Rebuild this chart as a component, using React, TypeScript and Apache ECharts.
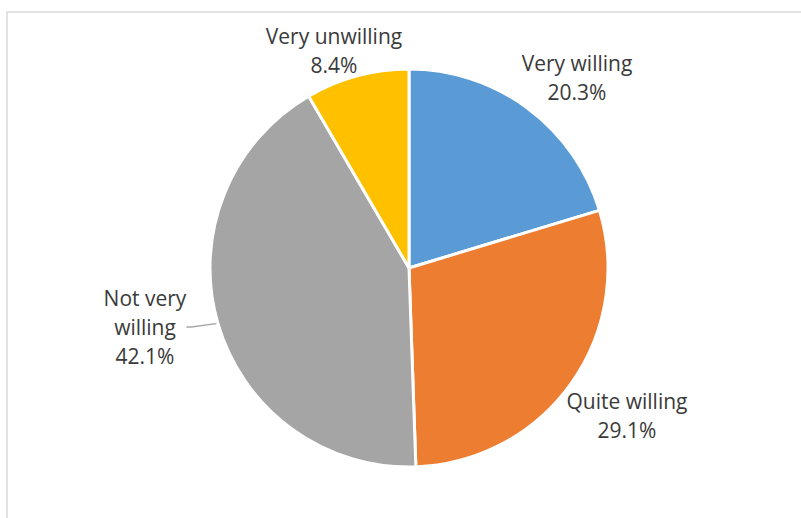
import React, { useEffect, useRef } from "react";
import * as echarts from "echarts";

const categories = ["Very willing", "Quite willing", "Not very willing", "Very unwilling"];
const labelTexts = ["Very willing", "Quite willing", "Not very\nwilling", "Very unwilling"];
const values = [20.3, 29.1, 42.1, 8.4];
const colors = ["#5B9BD5", "#ED7D31", "#A5A5A5", "#FFC000"];
const labelPos = [
  [577, 77],
  [627, 415],
  [145, 327],
  [334, 50],
];

export default function App() {
  const ref = useRef<HTMLDivElement>(null);
  useEffect(() => {
    if (!ref.current) return;
    const chart = echarts.init(ref.current, undefined, { renderer: "svg" });
    chart.setOption({
      animation: false,
      backgroundColor: "#ffffff",
      graphic: [
        {
          type: "rect",
          shape: { x: 7, y: 12, width: 820, height: 540 },
          style: { fill: "none", stroke: "#d9d9d9", lineWidth: 1.5 },
          silent: true,
        },
      ],
      series: [
        {
          type: "pie",
          center: [409, 268],
          radius: 199,
          startAngle: 90,
          clockwise: true,
          itemStyle: { borderColor: "#ffffff", borderWidth: 3 },
          label: {
            show: true,
            position: "outside",
            fontFamily: "Open Sans",
            fontSize: 21,
            lineHeight: 29,
            color: "#3a3a3a",
            align: "center",
          },
          labelLine: { show: false },
          labelLayout: (p: any) => ({
            x: labelPos[p.dataIndex][0],
            y: labelPos[p.dataIndex][1],
            align: "center",
            verticalAlign: "middle",
          }),
          data: categories.map((c, i) => ({
            name: c,
            value: values[i],
            itemStyle: { color: colors[i] },
            label: { formatter: labelTexts[i] + "\n" + values[i].toFixed(1) + "%" },
            labelLine:
              i === 2
                ? { show: true, length: 5, length2: 5, lineStyle: { color: "#a6a6a6", width: 1.3 } }
                : { show: false },
          })),
        },
      ],
    });
    return () => chart.dispose();
  }, []);
  return (
    <div
      ref={ref}
      style={{ position: "fixed", left: 0, top: 0, width: 801, height: 518 }}
    />
  );
}
